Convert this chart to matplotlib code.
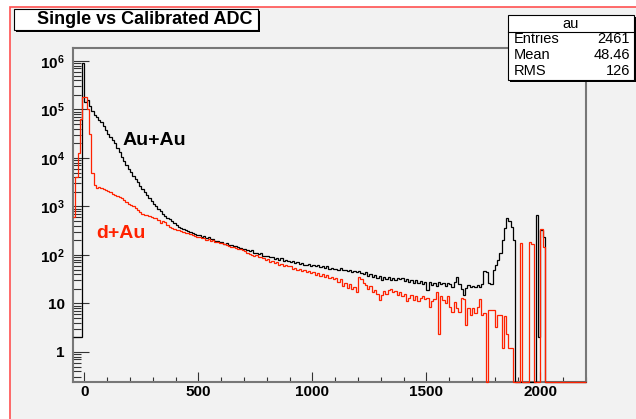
import numpy as np
import matplotlib
matplotlib.use("Agg")
import matplotlib.pyplot as plt
from matplotlib.patches import Rectangle
from matplotlib.lines import Line2D
from matplotlib.ticker import MultipleLocator, FixedLocator, FuncFormatter, NullFormatter

# histogram binning (ADC channels)
bin_start = -50
bin_width = 10

# Au+Au counts per bin, first row -50..0 then one row per 100 channels
au_counts = [
    2, 2, 2, 2, 900000,
    141000, 158000, 120000, 93000, 78000, 69000, 62000, 54000, 46000, 38000,
    31600, 26900, 23400, 20000, 16200, 13200, 10700, 8700, 7100, 5900,
    5100, 4300, 3600, 3200, 2700, 2300, 2000, 1740, 1510, 1320,
    1150, 1000, 890, 790, 710, 650, 590, 540, 490, 450,
    410, 380, 360, 340, 320, 310, 295, 280, 270, 263,
    257, 240, 245, 225, 229, 210, 214, 198, 191, 188,
    182, 172, 176, 162, 160, 150, 155, 143, 140, 133,
    132, 124, 121, 126, 112, 110, 104, 108, 97, 96,
    93, 89, 91, 83, 85, 79, 87, 76, 78, 74,
    72, 76, 68, 71, 65, 69, 63, 62, 66, 60,
    62, 58, 63, 56, 59, 54, 58, 52, 55, 51,
    52, 49, 54, 48, 50, 46, 49, 45, 47, 44,
    46, 42, 40, 44, 37, 40, 35, 38, 34, 36,
    30, 35, 32, 35, 30, 33, 31, 34, 32, 33,
    29, 32, 28, 31, 27, 30, 26, 29, 25, 28,
    19, 28, 24, 26, 23, 28, 25, 27, 23, 26,
    25, 22, 28, 35, 25, 20, 15, 21, 24, 22,
    23, 22, 24, 22, 25, 47, 45, 26, 25, 50,
    63, 79, 112, 204, 355, 575, 500, 380, 200, 0,
    0, 0, 0, 0, 0, 0, 0, 0, 660, 2,
    320, 230, 0, 0, 0, 0, 0, 0, 0, 0,
    0, 0, 0, 0, 0, 0, 0, 0, 0, 0,
]

# d+Au counts per bin, same binning
dau_counts = [
    600, 4000, 12600, 63000, 178000,
    180000, 100000, 31600, 5000, 2750, 2450, 2500, 2400, 2300, 2200,
    2090, 1950, 1780, 1700, 1620, 1550, 1480, 1350, 1230, 1150,
    1070, 1000, 930, 850, 780, 710, 680, 660, 630, 620,
    590, 575, 525, 457, 500, 480, 417, 380, 355, 347,
    331, 320, 316, 300, 290, 280, 270, 262, 250, 240,
    234, 224, 219, 204, 209, 195, 200, 186, 182, 178,
    174, 166, 158, 155, 148, 145, 138, 132, 135, 126,
    120, 112, 105, 100, 95, 98, 89, 91, 85, 79,
    81, 72, 76, 69, 71, 63, 66, 60, 62, 58,
    59, 52, 55, 50, 52, 46, 49, 45, 47, 42,
    44, 39, 42, 37, 40, 35, 38, 33, 35, 32,
    33, 28, 32, 23, 26, 21, 25, 20, 22, 17,
    35, 32, 26, 24, 20, 23, 17, 19, 16, 12,
    15, 18, 16, 19, 20, 17, 18, 15, 17, 14,
    16, 11, 13, 15, 12, 14, 11, 13, 14, 12.6,
    13, 8.5, 11, 12.6, 17, 2.4, 14, 12, 10, 14,
    8.5, 6.8, 10.5, 8, 6.8, 13, 12.6, 3.6, 8, 5.8,
    8, 6.3, 8.5, 12.6, 5.8, 6.3, 0, 7.4, 7.4, 7.4,
    3.3, 5.8, 5.8, 1.2, 5.4, 2.4, 1.2, 1.2, 0, 0,
    0, 178, 0, 0, 0, 182, 170, 0, 0, 0,
    345, 146, 0, 0, 0, 0, 0, 0, 0, 0,
    0, 0, 0, 0, 0, 0, 0, 0, 0, 0,
]

title = "Single vs Calibrated ADC"
stats_name = "au"
stats_labels = ["Entries", "Mean", "RMS"]
stats_values = ["2461", "48.46", "126"]

x_range = (-50, 2200)
y_range = (0.24, 1.85e6)
y_decades = [1, 10, 100, 1e3, 1e4, 1e5, 1e6]

RED = "#ff2200"
PAD = "#f2f2f2"
FRAME = "#777777"

plt.rcParams["font.family"] = ["Liberation Sans", "DejaVu Sans"]
plt.rcParams["font.weight"] = "bold"
plt.rcParams["mathtext.fontset"] = "custom"
plt.rcParams["mathtext.rm"] = "Liberation Sans:bold"
plt.rcParams["mathtext.it"] = "Liberation Sans:bold"
plt.rcParams["mathtext.bf"] = "Liberation Sans:bold"
plt.rcParams["mathtext.default"] = "rm"

W, H = 636, 419


def fx(px):
    return px / W


def fy(py):
    return 1 - py / H


fig = plt.figure(figsize=(W / 100, H / 100), dpi=100)
fig.patch.set_facecolor("white")

# pad background with red border (runs off right/bottom)
pad = Rectangle((fx(10), -0.5), 2, fy(7) + 0.5, transform=fig.transFigure,
                facecolor=PAD, edgecolor="#ff5050", lw=1.2, zorder=-1)
fig.add_artist(pad)

ax = fig.add_axes([fx(73), fy(382), (586 - 73) / W, (382 - 48) / H])
ax.set_facecolor(PAD)
ax.set_yscale("log")
ax.set_xlim(*x_range)
ax.set_ylim(*y_range)

edges = bin_start + bin_width * np.arange(len(au_counts) + 1)
for counts, col in [(au_counts, "black"), (dau_counts, RED)]:
    c = np.asarray(counts, dtype=float)
    v = np.where(c > 0, c, y_range[0])
    ax.stairs(v, edges, baseline=None, color=col, lw=0.9, clip_on=False, zorder=3)

for s in ax.spines.values():
    s.set_color(FRAME)
    s.set_linewidth(1.5)

ax.xaxis.set_major_locator(MultipleLocator(500))
ax.xaxis.set_minor_locator(MultipleLocator(100))
minor_y = [m * d for d in [0.1] + y_decades for m in range(2, 10)
           if y_range[0] <= m * d <= y_range[1]]
ax.yaxis.set_major_locator(FixedLocator(y_decades))
ax.yaxis.set_minor_locator(FixedLocator(minor_y))
ax.yaxis.set_minor_formatter(NullFormatter())


def ylab(v, pos):
    e = int(round(np.log10(v)))
    if e == 0:
        return "1"
    if e == 1:
        return "10"
    return r"$10^{%d}$" % e


ax.yaxis.set_major_formatter(FuncFormatter(ylab))
ax.tick_params(axis="x", which="major", direction="in", length=7.2, width=0.8,
               color="#333333", pad=2, labelsize=11)
ax.tick_params(axis="x", which="minor", direction="in", length=3.6, width=0.8, color="#333333")
ax.tick_params(axis="y", which="major", direction="in", length=11.5, width=0.8,
               color="#333333", pad=6, labelsize=11)
ax.tick_params(axis="y", which="minor", direction="in", length=5.8, width=0.8, color="#333333")

ax.text(0.158, 0.722, "Au+Au", transform=ax.transAxes, ha="center", va="center",
        fontsize=14, fontweight="bold", color="black")
ax.text(0.046, 0.446, "d+Au", transform=ax.transAxes, ha="left", va="center",
        fontsize=14, fontweight="bold", color=RED)

# title box with shadow
fig.add_artist(Rectangle((fx(16), fy(32)), (258 - 14) / W, (30 - 9) / H,
                         transform=fig.transFigure, facecolor="black", lw=0, zorder=4))
fig.add_artist(Rectangle((fx(14), fy(30)), (258 - 14) / W, (30 - 9) / H,
                         transform=fig.transFigure, facecolor="white",
                         edgecolor="black", lw=0.8, zorder=4))
fig.text(fx(37), fy(19.5), title, ha="left", va="center", fontsize=13,
         fontweight="bold", zorder=5)

# stats box
fig.add_artist(Rectangle((fx(510), fy(82)), (634 - 508) / W, (80 - 15) / H,
                         transform=fig.transFigure, facecolor="black", lw=0, zorder=4))
fig.add_artist(Rectangle((fx(508), fy(80)), (634 - 508) / W, (80 - 15) / H,
                         transform=fig.transFigure, facecolor="white",
                         edgecolor="black", lw=0.8, zorder=4))
fig.add_artist(Line2D([fx(508), fx(634)], [fy(32), fy(32)], transform=fig.transFigure,
                      color="black", lw=0.8, zorder=5))
fig.text(fx(571), fy(23.5), stats_name, ha="center", va="center", fontsize=10.5,
         fontweight="normal", zorder=5)
for i, (lab, val) in enumerate(zip(stats_labels, stats_values)):
    yy = fy(39 + 16 * i)
    fig.text(fx(514), yy, lab, ha="left", va="center", fontsize=10.5,
             fontweight="normal", zorder=5)
    fig.text(fx(630), yy, val, ha="right", va="center", fontsize=10.5,
             fontweight="normal", zorder=5)

fig.savefig("out.png", dpi=100)
